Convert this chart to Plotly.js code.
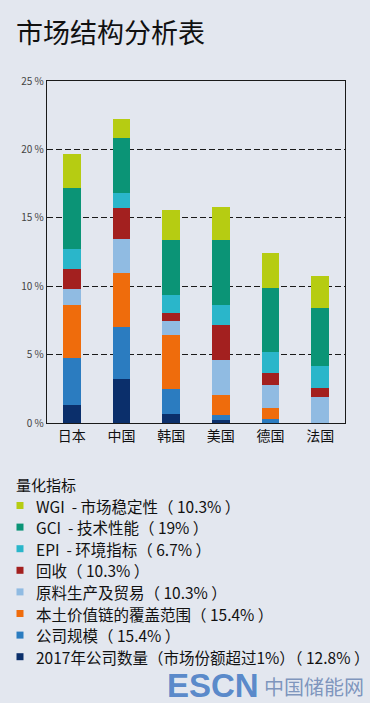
<!DOCTYPE html>
<html>
<head>
<meta charset="utf-8">
<script src="https://cdn.plot.ly/plotly-3.0.1.min.js"></script>
<style>
html,body{margin:0;padding:0;background:#e3e7ef;}
#chart{width:370px;height:703px;}
</style>
</head>
<body>
<div id="chart"></div>
<script>
const countries = ["日本", "中国", "韩国", "美国", "德国", "法国"];

const seriesNames = [
  "2017年公司数量（市场份额超过1%）（ 12.8% ）",
  "公司规模（ 15.4% ）",
  "本土价值链的覆盖范围（ 15.4% ）",
  "原料生产及贸易（ 10.3% ）",
  "回收（ 10.3% ）",
  "EPI  - 环境指标（ 6.7% ）",
  "GCI  - 技术性能（ 19% ）",
  "WGI  - 市场稳定性（ 10.3% ）"
];

const legendTitle = "量化指标";

const companyCount   = [1.3, 3.2, 0.65, 0.25, 0.0, 0.0];
const companySize    = [3.45, 3.8, 1.8, 0.3, 0.3, 0.0];
const valueChain     = [3.85, 3.95, 3.95, 1.5, 0.8, 0.0];
const rawMaterials   = [1.2, 2.5, 1.05, 2.55, 1.7, 1.9];
const recycling      = [1.45, 2.3, 0.6, 2.55, 0.85, 0.65];
const epi            = [1.5, 1.05, 1.3, 1.45, 1.55, 1.65];
const gci            = [4.45, 4.0, 4.05, 4.75, 4.65, 4.2];
const wgi            = [2.5, 1.45, 2.2, 2.45, 2.6, 2.35];

const seriesValues = [companyCount, companySize, valueChain, rawMaterials, recycling, epi, gci, wgi];
const seriesColors = ["#0b2f6b", "#2b7cc0", "#ef6c0c", "#90bbe2", "#a3201f", "#2ab6ca", "#0b9476", "#b6cc12"];

const yTicks = [0, 5, 10, 15, 20, 25];

const traces = seriesNames.map((name, i) => ({
  type: "bar",
  name: name,
  x: countries,
  y: seriesValues[i],
  marker: {color: seriesColors[i], line: {width: 0}},
  width: 0.36,
  hoverinfo: "x+y+name",
  showlegend: false
}));

const font = "'Noto Sans CJK SC', 'Noto Sans', sans-serif";

// plot-area geometry (pixels) used to place the hand-made legend
const PL = 47, PW = 298, PB = 423, PH = 342;
const px2x = p => (p - PL) / PW;
const px2y = p => (PB - p) / PH;

const annotations = [];
const shapes = [];

annotations.push({
  text: legendTitle,
  xref: "paper", yref: "paper",
  x: px2x(14), y: px2y(484),
  xanchor: "left", yanchor: "middle",
  showarrow: false,
  font: {family: font, size: 15, color: "#111"}
});

// legend rows: top row is the last (top-of-stack) series
const rowTop = 505.5, rowStep = 21.6;
for (let k = 0; k < seriesNames.length; k++) {
  const i = seriesNames.length - 1 - k;
  const cy = rowTop + k * rowStep;
  shapes.push({
    type: "rect", xref: "paper", yref: "paper",
    x0: px2x(16.5), x1: px2x(23.5),
    y0: px2y(cy - 3.5), y1: px2y(cy + 3.5),
    fillcolor: seriesColors[i], line: {width: 0}
  });
  annotations.push({
    text: seriesNames[i],
    xref: "paper", yref: "paper",
    x: px2x(34), y: px2y(cy),
    xanchor: "left", yanchor: "middle",
    showarrow: false,
    font: {family: font, size: 15.5, color: "#111"}
  });
}

annotations.push({
  text: "<b>ESCN</b>",
  xref: "paper", yref: "paper",
  x: px2x(165), y: px2y(685),
  xanchor: "left", yanchor: "middle",
  showarrow: false,
  font: {family: "Liberation Sans, Arial, sans-serif", size: 33, color: "rgba(72,125,197,0.9)"}
});
annotations.push({
  text: "中国储能网",
  xref: "paper", yref: "paper",
  x: px2x(366), y: px2y(686),
  xanchor: "right", yanchor: "middle",
  showarrow: false,
  font: {family: font, size: 20, color: "rgba(100,128,175,0.8)"}
});

const layout = {
  width: 370,
  height: 703,
  paper_bgcolor: "#e3e7ef",
  plot_bgcolor: "#e3e7ef",
  barmode: "stack",
  showlegend: false,
  margin: {l: PL, r: 370 - PL - PW, t: PB - PH, b: 703 - PB, autoexpand: false},
  font: {family: font, color: "#111"},
  title: {
    text: "市场结构分析表",
    x: 16 / 370,
    xref: "container",
    xanchor: "left",
    y: 1 - 34 / 703,
    yref: "container",
    yanchor: "middle",
    font: {family: font, size: 27, color: "#111"}
  },
  xaxis: {
    type: "category",
    range: [-0.5, 5.5],
    showline: true,
    linecolor: "#1a1a1a",
    linewidth: 1.2,
    mirror: true,
    ticks: "",
    showgrid: false,
    tickfont: {family: font, size: 14, color: "#111"},
    fixedrange: true
  },
  yaxis: {
    range: [0, 25],
    tickvals: yTicks,
    ticktext: yTicks.map(v => v + " %"),
    showline: true,
    linecolor: "#1a1a1a",
    linewidth: 1.2,
    mirror: true,
    ticks: "",
    showgrid: true,
    gridcolor: "#1a1a1a",
    gridwidth: 1,
    griddash: "6px,3px",
    zeroline: false,
    tickfont: {family: font, size: 10, color: "#444"},
    fixedrange: true
  },
  annotations: annotations,
  shapes: shapes
};

Plotly.newPlot("chart", traces, layout, {displayModeBar: false, staticPlot: true});
</script>
</body>
</html>
